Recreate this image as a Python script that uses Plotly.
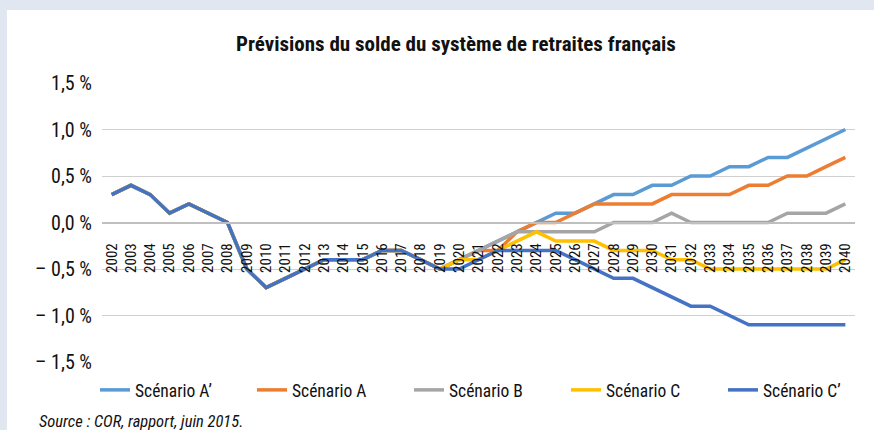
import plotly.graph_objects as go

years = [str(y) for y in range(2002, 2041)]

hist = [0.3, 0.4, 0.3, 0.1, 0.2, 0.1, 0.0, -0.5, -0.7, -0.6, -0.5, -0.4, -0.4, -0.4, -0.3, -0.3, -0.4, -0.5]  # 2002-2019

a_prime = hist + [-0.4, -0.3, -0.2, -0.1, 0.0, 0.1, 0.1, 0.2, 0.3, 0.3, 0.4, 0.4, 0.5, 0.5, 0.6, 0.6, 0.7, 0.7, 0.8, 0.9, 1.0]
a_val = hist + [-0.4, -0.3, -0.3, -0.1, 0.0, 0.0, 0.1, 0.2, 0.2, 0.2, 0.2, 0.3, 0.3, 0.3, 0.3, 0.4, 0.4, 0.5, 0.5, 0.6, 0.7]
b_val = hist + [-0.4, -0.3, -0.2, -0.1, -0.1, -0.1, -0.1, -0.1, 0.0, 0.0, 0.0, 0.1, 0.0, 0.0, 0.0, 0.0, 0.0, 0.1, 0.1, 0.1, 0.2]
c_val = hist + [-0.4, -0.4, -0.3, -0.2, -0.1, -0.2, -0.2, -0.2, -0.3, -0.3, -0.3, -0.4, -0.4, -0.5, -0.5, -0.5, -0.5, -0.5, -0.5, -0.5, -0.4]
c_prime = hist + [-0.5, -0.4, -0.3, -0.3, -0.3, -0.3, -0.4, -0.5, -0.6, -0.6, -0.7, -0.8, -0.9, -0.9, -1.0, -1.1, -1.1, -1.1, -1.1, -1.1, -1.1]

series_names = ["Scénario A’", "Scénario A", "Scénario B", "Scénario C", "Scénario C’"]
series_values = [a_prime, a_val, b_val, c_val, c_prime]
series_colors = ["#5B9BD5", "#ED7D31", "#A5A5A5", "#FFC000", "#4472C4"]

y_tickvals = [-1.5, -1.0, -0.5, 0.0, 0.5, 1.0, 1.5]
y_ticktext = ["– 1,5 %", "– 1,0 %", "– 0,5 %", "0,0 %", "0,5 %", "1,0 %", "1,5 %"]

FONT = "Roboto Condensed, Liberation Sans Narrow, DejaVu Sans Condensed, sans-serif"

fig = go.Figure()
for name, vals, col in zip(series_names, series_values, series_colors):
    fig.add_trace(go.Scatter(x=years, y=vals, name=name, mode="lines",
                             line=dict(color=col, width=3.5)))

W, H = 874, 430
L, R, T, B = 102, 19, 83, 68
PW, PH = W - L - R, H - T - B
fig.update_layout(
    width=W, height=H,
    margin=dict(l=L, r=R, t=T, b=B, autoexpand=False),
    paper_bgcolor="white", plot_bgcolor="white",
    font=dict(family=FONT, color="#111111"),
    title=dict(text="<b>Prévisions du solde du système de retraites français</b>",
               x=456 / W, xanchor="center", xref="container",
               y=1 - 44 / H, yanchor="middle", yref="container",
               font=dict(size=21, family=FONT, color="#111111")),
    showlegend=True,
    legend=dict(orientation="h", x=(95 - L) / PW, xanchor="left",
                y=-(390 - (H - B)) / PH, yanchor="middle",
                font=dict(size=17.5, family=FONT),
                entrywidth=112, entrywidthmode="pixels",
                tracegroupgap=0, bgcolor="rgba(0,0,0,0)"),
    xaxis=dict(type="category", range=[-0.5, 38.5], anchor="free", position=0.5,
               showgrid=False, showline=True, linecolor="#BFBFBF", linewidth=1.5,
               tickangle=-90, tickfont=dict(size=15, family=FONT),
               ticks="", ticklabelstandoff=14, zeroline=False, domain=[0, 1]),
    yaxis=dict(range=[-1.5, 1.5], tickvals=y_tickvals, ticktext=y_ticktext,
               showgrid=True, gridcolor="#D0D0D0", gridwidth=1,
               zeroline=False, showline=False, ticks="",
               tickfont=dict(size=20, family=FONT), ticklabelstandoff=9),
)

# light blue frame bands (top and left)
fig.add_shape(type="rect", xref="paper", yref="paper",
              x0=-L / PW, x1=(W - L) / PW,
              y0=(H - B - 10) / PH, y1=(H - B) / PH,
              fillcolor="#E0E7F1", line=dict(width=0), layer="below")
fig.add_shape(type="rect", xref="paper", yref="paper",
              x0=-L / PW, x1=-(L - 7) / PW,
              y0=-B / PH, y1=(H - B) / PH,
              fillcolor="#E0E7F1", line=dict(width=0), layer="below")

fig.add_annotation(text="<i>Source : COR, rapport, juin 2015.</i>", xref="paper", yref="paper",
                   x=(37 - L) / PW, xanchor="left",
                   y=-(421 - (H - B)) / PH, yanchor="middle",
                   showarrow=False, font=dict(size=16.5, family=FONT, color="#111111"))

fig.write_html("out.html", config={"displayModeBar": False},
               post_script="document.body.style.margin='0px';document.body.style.overflow='hidden';")
